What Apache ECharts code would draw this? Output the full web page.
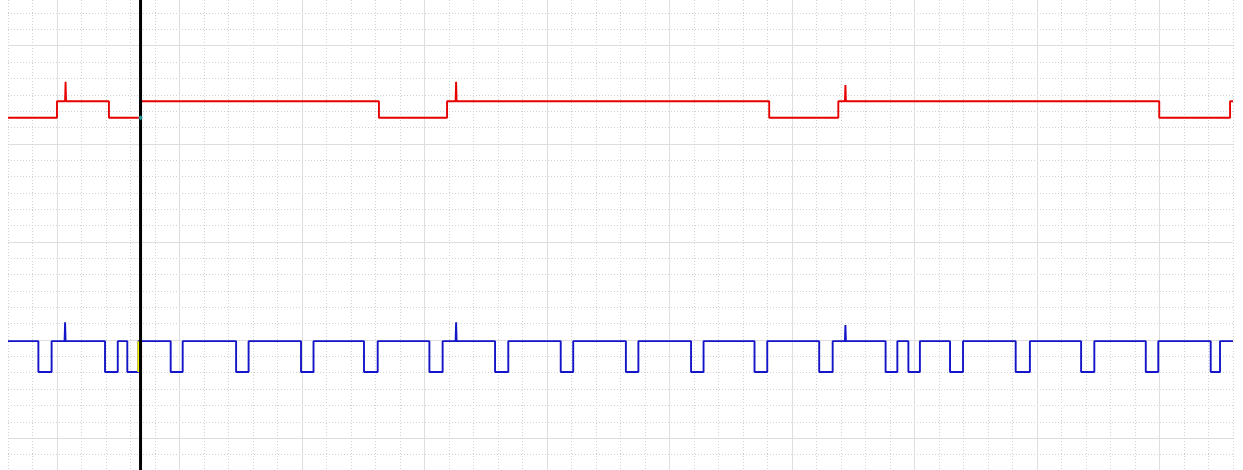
<!DOCTYPE html>
<html>
<head>
<meta charset="utf-8">
<script src="https://cdn.jsdelivr.net/npm/echarts@6/dist/echarts.min.js"></script>
<style>
html,body{margin:0;padding:0;background:#fff;}
#chart{width:1243px;height:470px;}
</style>
</head>
<body>
<div id="chart"></div>
<script>
// x in grid divisions (0..50), y in grid divisions (0..27, bottom = 0)
const redX = [0, 2.0, 2.0, 2.33, 2.35, 2.37, 4.12, 4.12, 5.39, 5.39, 15.14, 15.14, 17.92, 17.92, 18.27, 18.29, 18.31, 31.07, 31.07, 33.89, 33.89, 34.16, 34.18, 34.2, 46.99, 46.99, 49.88, 49.88, 50];
const redY = [20.59, 20.59, 21.6, 21.6, 22.8, 21.6, 21.6, 20.59, 20.59, 21.6, 21.6, 20.59, 20.59, 21.6, 21.6, 22.8, 21.6, 21.6, 20.59, 20.59, 21.6, 21.6, 22.6, 21.6, 21.6, 20.59, 20.59, 21.6, 21.6];

const blueHigh = 6.93;
const blueLow = 5.04;
const blueFall = [1.24, 3.96, 4.87, 6.64, 9.31, 11.96, 14.53, 17.2, 19.88, 22.56, 25.22, 27.88, 30.47, 33.11, 35.82, 36.75, 38.45, 41.13, 43.8, 46.44, 49.09];
const blueRise = [1.78, 4.48, 5.32, 7.13, 9.82, 12.47, 15.09, 17.74, 20.42, 23.07, 25.73, 28.39, 30.99, 33.66, 36.3, 37.22, 38.98, 41.71, 44.34, 46.95, 49.47];
const blueSpikeX = [2.33, 18.29, 34.18];
const blueSpikeY = [8.08, 8.08, 7.92];
const blueEndX = 50;

const cursorX = 5.41;
const yellowEdgeX = 5.32;

// build series data from the arrays
const redData = redX.map((x, i) => [x, redY[i]]);

const events = [];
blueFall.forEach(x => events.push({x, t: 'f'}));
blueRise.forEach(x => events.push({x, t: 'r'}));
blueSpikeX.forEach((x, i) => events.push({x, t: 's', y: blueSpikeY[i]}));
events.sort((a, b) => a.x - b.x);
const blueData = [[0, blueHigh]];
events.forEach(e => {
  if (e.t === 'f') { blueData.push([e.x, blueHigh], [e.x, blueLow]); }
  else if (e.t === 'r') { blueData.push([e.x, blueLow], [e.x, blueHigh]); }
  else { blueData.push([e.x - 0.02, blueHigh], [e.x, e.y], [e.x + 0.02, blueHigh]); }
});
blueData.push([blueEndX, blueHigh]);

const hidden = {axisLine: {show: false}, axisTick: {show: false}, axisLabel: {show: false}};
const noLine = {show: false};
const minorLine = {show: true, lineStyle: {color: '#d2d2d2', width: 1, type: [1, 2]}};
const majorLine = {show: true, lineStyle: {color: '#dedede', width: 1, type: 'solid'}};

const ax = (o) => Object.assign({type: 'value'}, hidden, o);

const chart = echarts.init(document.getElementById('chart'), null, {renderer: 'canvas'});
chart.setOption({
  animation: false,
  backgroundColor: '#ffffff',
  grid: [
    {left: 8, right: 10, top: 13, bottom: 15.55},   // data + minor horizontals
    {left: 8, right: 10, top: 0, bottom: 0},        // minor verticals + cursor
    {left: 57, right: 83.5, top: 0, bottom: 0},     // major verticals
    {left: 8, right: 10, top: 45.7, bottom: 31.9}   // major horizontals
  ],
  xAxis: [
    ax({gridIndex: 0, min: 0, max: 50, interval: 50, splitLine: noLine}),
    ax({gridIndex: 1, min: 0, max: 50, interval: 1, splitLine: minorLine}),
    ax({gridIndex: 2, min: 0, max: 9, interval: 1, splitLine: majorLine}),
    ax({gridIndex: 3, min: 0, max: 1, interval: 1, splitLine: noLine})
  ],
  yAxis: [
    ax({gridIndex: 0, min: 0, max: 27, interval: 1, splitLine: minorLine}),
    ax({gridIndex: 1, min: 0, max: 1, interval: 1, splitLine: noLine}),
    ax({gridIndex: 2, min: 0, max: 1, interval: 1, splitLine: noLine}),
    ax({gridIndex: 3, min: 0, max: 4, interval: 1, splitLine: majorLine})
  ],
  series: [
    {type: 'line', xAxisIndex: 0, yAxisIndex: 0, data: redData, showSymbol: false, z: 3,
     lineStyle: {color: '#e60000', width: 1.9}},
    {type: 'line', xAxisIndex: 0, yAxisIndex: 0, data: blueData, showSymbol: false, z: 3,
     lineStyle: {color: '#1414c8', width: 1.9}},
    {type: 'line', xAxisIndex: 0, yAxisIndex: 0, data: [[yellowEdgeX, blueLow], [yellowEdgeX, blueHigh]], showSymbol: false, z: 4,
     lineStyle: {color: '#f0f000', width: 2}},
    {type: 'line', xAxisIndex: 1, yAxisIndex: 1, data: [[cursorX, 0], [cursorX, 1]], showSymbol: false, z: 5,
     lineStyle: {color: '#000000', width: 3}},
    {type: 'scatter', xAxisIndex: 0, yAxisIndex: 0, data: [[cursorX, 20.59]], symbol: 'diamond', symbolSize: 5, z: 6,
     itemStyle: {color: '#30b8b8'}}
  ]
});
</script>
</body>
</html>
